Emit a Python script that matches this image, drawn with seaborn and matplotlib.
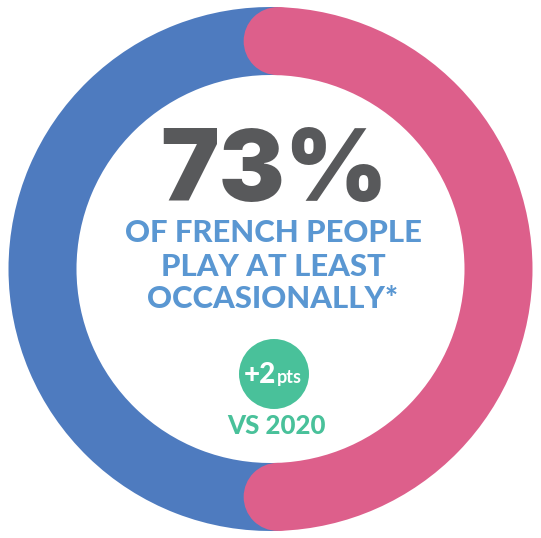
import matplotlib
matplotlib.use("Agg")
import matplotlib.pyplot as plt
import seaborn as sns
import numpy as np
from matplotlib.patches import Circle

sns.set_theme(style="white")
plt.rcParams['font.family'] = ['Lato', 'DejaVu Sans']

# data
segments = ["Pink arc", "Blue arc"]
shares = [49, 51]
headline = "73%"
subtitle_lines = ["OF FRENCH PEOPLE", "PLAY AT LEAST", "OCCASIONALLY*"]
delta_value = "+2"
delta_unit = "pts"
delta_label = "VS 2020"

BLUE = "#4E7BBF"
PINK = "#DD5F8B"
GRAY = "#58595B"
TXT_BLUE = "#5A97D2"
GREEN = "#49C19A"

W, H = 541, 538
fig = plt.figure(figsize=(W / 100, H / 100), dpi=100)
ax = fig.add_axes([0, 0, 1, 1])

cx, cy = 270.5, 269
R, thick = 262, 68
start = 90 - 1.8
wedges, _ = ax.pie(shares, colors=[PINK, BLUE], startangle=start, counterclock=False,
                   radius=R, center=(cx, cy), wedgeprops=dict(width=thick, linewidth=0))
ax.set_xlim(0, W)
ax.set_ylim(0, H)
ax.set_aspect("equal")
ax.axis("off")

# round caps for the pink arc
rmid = R - thick / 2
end = start - 360 * shares[0] / sum(shares)
for a in (start, end):
    t = np.deg2rad(a)
    ax.add_patch(Circle((cx + rmid * np.cos(t), cy + rmid * np.sin(t)), thick / 2,
                        color=PINK, lw=0, zorder=3))

ax.text(274, 363, headline, ha="center", va="center", fontsize=71, fontweight="black",
        color=GRAY, family=["Inter", "Lato", "DejaVu Sans"])
for yy, line in zip([304.5, 271.5, 239.5], subtitle_lines):
    ax.text(273, yy, line, ha="center", va="center", fontsize=22.3, fontweight="black",
            color=TXT_BLUE)

ax.add_patch(Circle((274, 164), 35, color=GREEN, lw=0, zorder=3))
ax.text(276, 155, delta_value, ha="right", va="baseline", fontsize=20, fontweight="black",
        color="white", zorder=4)
ax.text(277, 155, delta_unit, ha="left", va="baseline", fontsize=13, fontweight="bold",
        color="white", zorder=4)
ax.text(276, 112, delta_label, ha="center", va="center", fontsize=18.5, fontweight="black",
        color=GREEN)

fig.savefig("out.png", dpi=100)
